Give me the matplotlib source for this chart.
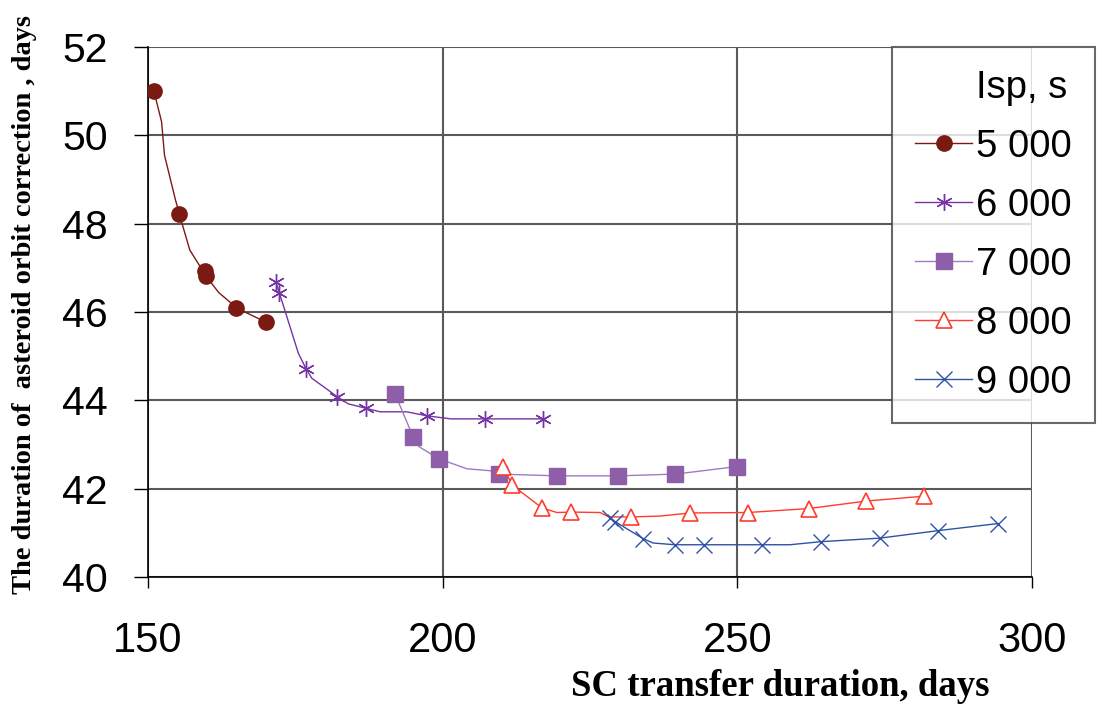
import matplotlib
matplotlib.use("Agg")
import matplotlib.pyplot as plt
from matplotlib.lines import Line2D

# Isp = 5000 s
days_5000 = [151.0, 152.3, 152.8, 154.6, 155.3, 157.1, 158.8, 159.6, 159.8, 162.0, 165.0, 166.6, 170.0]
corr_5000 = [51.0, 50.31, 49.55, 48.57, 48.22, 47.40, 47.04, 46.92, 46.82, 46.44, 46.10, 45.99, 45.77]
marks_5000 = [0, 4, 7, 8, 10, 12]

# Isp = 6000 s
days_6000 = [171.7, 172.3, 172.7, 175.5, 176.8, 177.8, 180.6, 182.1, 184.0, 187.0, 189.4, 193.9, 197.3, 201.4, 207.2, 217.0]
corr_6000 = [46.68, 46.42, 46.26, 45.07, 44.72, 44.50, 44.23, 44.08, 43.92, 43.82, 43.74, 43.74, 43.65, 43.58, 43.58, 43.58]
marks_6000 = [0, 1, 4, 7, 9, 12, 14, 15]

# Isp = 7000 s
days_7000 = [191.9, 195.0, 196.0, 199.3, 204.1, 208.6, 209.6, 219.4, 229.8, 239.5, 249.9]
corr_7000 = [44.15, 43.17, 42.95, 42.68, 42.45, 42.40, 42.33, 42.29, 42.29, 42.33, 42.50]
marks_7000 = [0, 1, 3, 6, 7, 8, 9, 10]

# Isp = 8000 s
days_8000 = [210.3, 211.8, 216.9, 219.4, 221.8, 226.7, 228.2, 232.0, 236.9, 242.0, 251.8, 262.1, 271.9, 281.7]
corr_8000 = [42.50, 42.08, 41.56, 41.46, 41.47, 41.46, 41.36, 41.36, 41.38, 41.45, 41.46, 41.55, 41.72, 41.83]
marks_8000 = [0, 1, 2, 4, 7, 9, 10, 11, 12, 13]

# Isp = 9000 s
days_9000 = [228.4, 229.3, 234.0, 235.7, 239.4, 244.4, 254.2, 258.9, 264.2, 274.2, 284.1, 294.2]
corr_9000 = [41.33, 41.25, 40.87, 40.77, 40.73, 40.73, 40.73, 40.73, 40.80, 40.88, 41.05, 41.21]
marks_9000 = [0, 1, 2, 4, 5, 6, 8, 9, 10, 11]

labels = ["5 000", "6 000", "7 000", "8 000", "9 000"]

SANS = "Liberation Sans"
SERIF = "Liberation Serif"

series = [
    (days_5000, corr_5000, marks_5000, dict(color="#7a1a12", marker="o", ms=11, mfc="#7a1a12", mec="#7a1a12")),
    (days_6000, corr_6000, marks_6000, dict(color="#7434a4", marker=(6, 2, 0), ms=12, mew=1.0, mec="#7434a4")),
    (days_7000, corr_7000, marks_7000, dict(color="#9f7cc0", marker="s", ms=11, mfc="#8e5ea8", mec="#8e5ea8")),
    (days_8000, corr_8000, marks_8000, dict(color="#ff3b2b", marker="^", ms=11.5, mfc="white", mec="#ff3b2b", mew=1.2)),
    (days_9000, corr_9000, marks_9000, dict(color="#2f52a6", marker="x", ms=11, mew=1.0, mec="#2f52a6")),
]

fig = plt.figure(figsize=(11.19, 7.05), dpi=100)
ax = fig.add_axes([148 / 1119, 1 - 577 / 705, (1032 - 148) / 1119, (577 - 47) / 705])

# invisible first entry so the heading lines up with the labels
handles = [Line2D([], [], linestyle="none", marker="none", label="Isp, s")]
for (x, y, mk, st), lab in zip(series, labels):
    ax.plot(x, y, lw=1.0, markevery=mk, zorder=3, **st)
    handles.append(Line2D([], [], lw=1.0, label=lab, **st))

ax.set_xlim(150, 300)
ax.set_ylim(40, 52)
ax.set_xticks([150, 200, 250, 300])
ax.set_yticks([40, 42, 44, 46, 48, 50, 52])
ax.grid(True, color="#5a5a5a", lw=1.5, zorder=0)
for s in ["top", "right"]:
    ax.spines[s].set_visible(False)
for s in ["left", "bottom"]:
    ax.spines[s].set_color("black")
    ax.spines[s].set_linewidth(1.2)
    ax.spines[s].set_zorder(2)
ax.tick_params(axis="y", length=10, width=1, pad=19, labelsize=29.5)
ax.tick_params(axis="x", length=8, width=1, pad=24, labelsize=30)
for t in ax.get_xticklabels() + ax.get_yticklabels():
    t.set_fontfamily(SANS)

fig.text(25 / 1119, 1 - 305 / 705, "The duration of  asteroid orbit correction , days",
         rotation=90, ha="center", va="center", family=SERIF, weight="bold", fontsize=20.5)
fig.text(780 / 1119, 1 - 687 / 705, "SC transfer duration, days",
         ha="center", va="center", family=SERIF, weight="bold", fontsize=26.5)

leg = fig.legend(handles=handles, loc="upper left", bbox_to_anchor=(892 / 1119, 1 - 47 / 705),
                 prop={"family": SANS, "size": 27.5}, frameon=True, fancybox=False,
                 handlelength=1.5, handletextpad=0.1, labelspacing=0.6, borderpad=0.6,
                 borderaxespad=0.0)
leg.get_frame().set_edgecolor("#444444")
leg.get_frame().set_linewidth(1.5)

fig.savefig("out.png", dpi=100)
